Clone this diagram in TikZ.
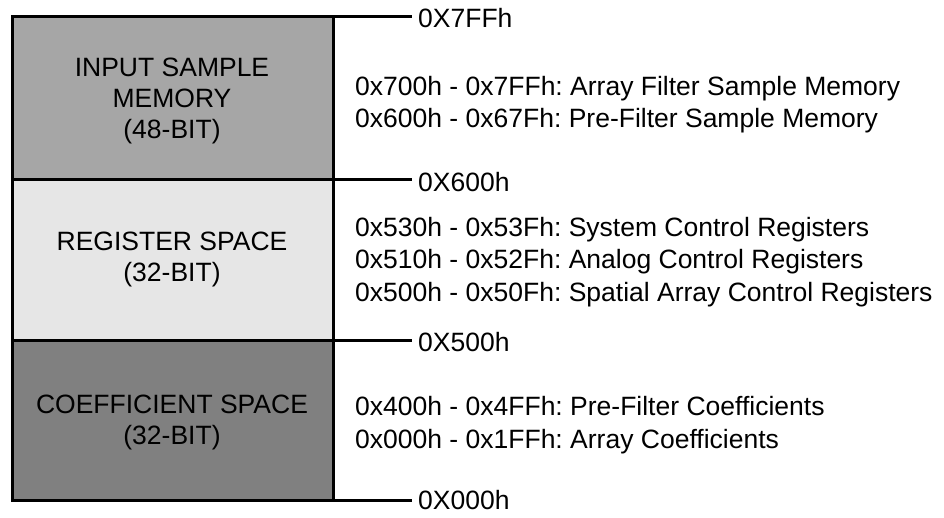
\documentclass[tikz,border=0pt]{standalone}
\usepackage{fontspec}
\setmainfont{Liberation Sans}
\frenchspacing
\begin{document}
\begin{tikzpicture}[x=1pt,y=-1pt,
  region/.style={draw=black,line width=3pt},
  tick/.style={draw=black,line width=3pt},
  lbl/.style={font=\fontsize{26.5}{31}\selectfont,inner sep=0pt,anchor=west},
  ctr/.style={font=\fontsize{26.5}{31}\selectfont,inner sep=0pt,align=center,anchor=center},
  desc/.style={font=\fontsize{26.5}{32.3}\selectfont,inner sep=0pt,align=left,anchor=west}]
\useasboundingbox (0,0) rectangle (944,518);
\fill[fill={rgb,255:red,166;green,166;blue,166}] (12,17) rectangle (333,180);
\fill[fill={rgb,255:red,230;green,230;blue,230}] (12,180) rectangle (333,340);
\fill[fill={rgb,255:red,128;green,128;blue,128}] (12,340) rectangle (333,500);
\draw[region] (12,17) rectangle (333,500);
\draw[region] (12,180) -- (333,180);
\draw[region] (12,340) -- (333,340);
\coordinate (t0) at (333,17);
\coordinate (t1) at (333,180);
\coordinate (t2) at (333,340);
\coordinate (t3) at (333,500);
\node[lbl] (a0) at (418,18) {0X7FFh};
\node[lbl] (a1) at (418,182) {0X600h};
\node[lbl] (a2) at (418,342) {0X500h};
\node[lbl] (a3) at (418,500) {0X000h};
\draw[tick] (t0) -- ([xshift=-6pt]t0 -| a0.west);
\draw[tick] (t1) -- ([xshift=-6pt]t1 -| a1.west);
\draw[tick] (t2) -- ([xshift=-6pt]t2 -| a2.west);
\draw[tick] (t3) -- ([xshift=-6pt]t3 -| a3.west);
\node[ctr] (m1) at (172,101) {INPUT SAMPLE\\MEMORY\\(48-BIT)};
\node[ctr] (m2) at (172,259) {REGISTER SPACE\\(32-BIT)};
\node[ctr] (m3) at (172,422) {COEFFICIENT SPACE\\(32-BIT)};
\node[desc] (d1) at (355,104.5) {0x700h - 0x7FFh: Array Filter Sample Memory\\0x600h - 0x67Fh: Pre-Filter Sample Memory};
\node[desc] (d2) at (355,262) {0x530h - 0x53Fh: System Control Registers\\0x510h - 0x52Fh: Analog Control Registers\\0x500h - 0x50Fh: Spatial Array Control Registers};
\node[desc] (d3) at (355,425) {0x400h - 0x4FFh: Pre-Filter Coefficients\\0x000h - 0x1FFh: Array Coefficients};
\end{tikzpicture}
\end{document}
